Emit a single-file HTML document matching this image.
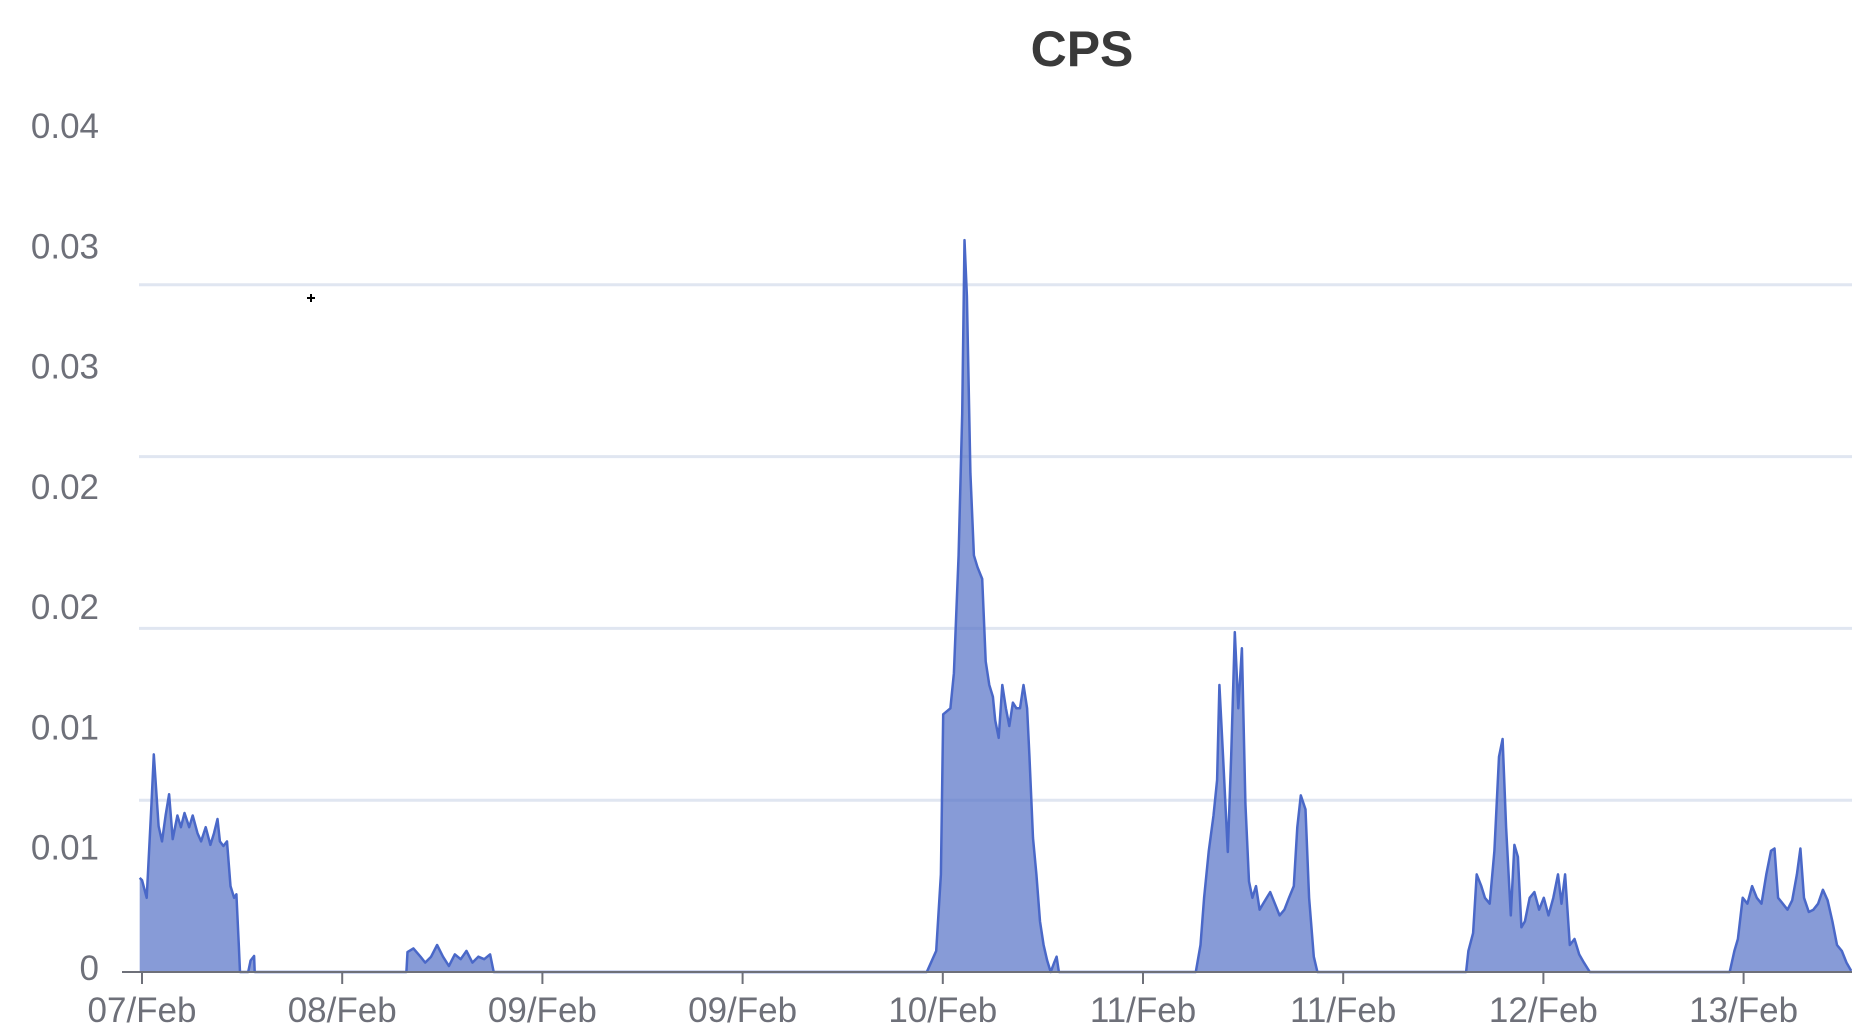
<!DOCTYPE html>
<html><head><meta charset="utf-8"><style>
html,body{margin:0;padding:0;background:#fff;}
svg{display:block;}
text{font-family:"Liberation Sans",sans-serif;}
</style></head><body>
<svg id="chart" width="1852" height="1027" xmlns="http://www.w3.org/2000/svg">
<text x="1082" y="66" text-anchor="middle" font-size="50" font-weight="bold" fill="#3a3a3a">CPS</text>
<g id="grid"></g><g id="series"></g><g id="axes"></g>
<g stroke="#000" stroke-width="2"><line x1="307" y1="298" x2="315" y2="298"/><line x1="311" y1="294" x2="311" y2="302"/></g>
</svg>
<script>
// hours from first tick, values in units of 1e-4
const hours=[-0.21,0,0.42,0.85,1.06,1.49,1.80,2.12,2.44,2.76,3.18,3.50,3.82,4.24,4.56,4.99,5.31,5.73,6.15,6.47,6.79,7.00,7.32,7.64,7.96,8.28,8.49,8.70,8.81,9.55,9.76,10.08,10.13,
23.77,23.87,24.40,25.04,25.46,25.99,26.53,27.06,27.59,28.12,28.65,29.18,29.71,30.24,30.77,31.30,31.62,
70.56,71.41,71.83,72.04,72.68,73.0,73.42,73.74,73.95,74.17,74.48,74.80,75.12,75.54,75.86,76.18,76.50,76.71,77.03,77.35,77.67,77.98,78.30,78.62,78.94,79.26,79.58,79.79,80.11,80.42,80.74,81.06,81.38,81.70,82.02,82.23,82.44,
94.75,95.17,95.49,95.92,96.34,96.66,96.87,97.19,97.62,97.93,98.25,98.57,98.89,99.21,99.53,99.84,100.16,100.48,100.80,101.12,101.44,101.86,102.28,102.71,103.13,103.56,103.87,104.19,104.61,104.93,105.36,105.68,
119.05,119.26,119.68,120.0,120.42,120.74,121.17,121.59,122.01,122.33,122.65,123.07,123.39,123.71,124.02,124.34,124.77,125.19,125.61,126.04,126.46,126.89,127.31,127.63,127.95,128.37,128.80,129.22,129.64,130.17,
142.75,143.17,143.49,143.92,144.34,144.76,145.19,145.61,146.04,146.46,146.78,147.10,147.52,147.95,148.37,148.79,149.11,149.43,149.86,150.28,150.70,151.13,151.55,151.98,152.40,152.83,153.25,153.67];
const cps=[41.1,40.1,32.4,73.5,95.0,63.7,57.0,68.3,77.6,58.0,68.3,63.2,69.4,63.2,68.3,60.6,57.0,63.2,55.5,60.6,66.8,57.0,55.0,57.0,37.5,32.4,33.9,11.8,0,0,5,7,0,
0,8.7,10.3,6.7,4.1,6.7,11.8,6.7,2.6,7.7,5.6,9.2,4.1,6.7,5.6,7.7,0,
0,9.2,42.6,112.5,115.1,130.5,181.9,243.5,319.5,295,217.8,181.9,176.7,171.6,135.6,125.3,120.2,109.9,102.2,125.3,115.1,107.4,117.6,115.1,115.1,125.3,115.1,94.5,58.5,42.6,22.1,11.8,5.1,0,4.1,6.7,0,
0,11.8,32.4,52.9,68.3,83.8,125.3,94.5,52.4,94.5,148.4,115.1,141.3,73.5,39.5,32.4,37.5,27.2,29.8,32.4,34.9,29.8,24.7,27.2,32.4,37.5,63.2,77.1,71.0,32.4,6.7,0,
0,9.2,17.0,42.6,37.5,32.4,29.8,52.9,94.0,101.7,63.2,24.7,55.5,50.3,19.5,22.1,32.4,34.9,27.2,32.4,24.7,32.4,42.6,29.8,42.6,11.8,14.4,7.7,4.1,0,
0,9.2,14.4,32.4,29.8,37.5,32.4,29.8,42.6,52.9,53.9,32.4,29.8,27.2,31.3,42.6,53.9,32.4,26.2,27.2,29.8,35.9,31.3,22.1,11.8,9.2,4.1,0.5];
const xTickLabels=["07/Feb","08/Feb","09/Feb","09/Feb","10/Feb","11/Feb","11/Feb","12/Feb","13/Feb"];
const xTickHours=[0,18,36,54,72,90,108,126,144];
const yTickValues=[0,52.5,105,157.5,210,262.5,315,367.5];
const yTickLabels=["0","0.01","0.01","0.02","0.02","0.03","0.03","0.04"];
const gridValues=[75,150,225,300];

const NS="http://www.w3.org/2000/svg";
const X0=142,PXH=200.2/18,Y0=972,PXV=171.8/75,LEFT=122,RIGHT=1852;
const xs=h=>X0+h*PXH, ys=v=>Y0-v*PXV;
function mk(tag,attrs,parent){const e=document.createElementNS(NS,tag);for(const k in attrs)e.setAttribute(k,attrs[k]);parent.appendChild(e);return e;}
const grid=document.getElementById('grid'),ser=document.getElementById('series'),ax=document.getElementById('axes');
gridValues.forEach(v=>{
  const l=mk('line',{x1:139,x2:RIGHT,y1:ys(v),y2:ys(v),stroke:'#e0e6f1','stroke-width':3},grid);
  
  
});
let d='';hours.forEach((h,i)=>{d+=(i?'L':'M')+xs(h).toFixed(1)+','+ys(cps[i]).toFixed(1);});
const area=mk('path',{d:d+'L'+xs(hours[hours.length-1]).toFixed(1)+','+Y0+'L'+xs(hours[0]).toFixed(1)+','+Y0+'Z',fill:'#5470c6','fill-opacity':0.7},ser);


const line=mk('path',{d:d,fill:'none',stroke:'#4a68c8','stroke-width':2.5,'stroke-linejoin':'round'},ser);


const axis=mk('line',{x1:LEFT,x2:RIGHT,y1:Y0,y2:Y0,stroke:'#6e7079','stroke-width':2},ax);


xTickHours.forEach((h,i)=>{
  const t=mk('line',{x1:xs(h),x2:xs(h),y1:Y0,y2:Y0+12,stroke:'#6e7079','stroke-width':2},ax);
  
  
  const tx=mk('text',{x:xs(h),y:1022,'text-anchor':'middle','font-size':35,fill:'#6e7079'},ax);
  tx.textContent=xTickLabels[i];
  
  
});
yTickValues.forEach((v,i)=>{
  const tx=mk('text',{x:99,y:ys(v)+8,'text-anchor':'end','font-size':35,fill:'#6e7079'},ax);
  tx.textContent=yTickLabels[i];
  
  
});
</script>
</body></html>
